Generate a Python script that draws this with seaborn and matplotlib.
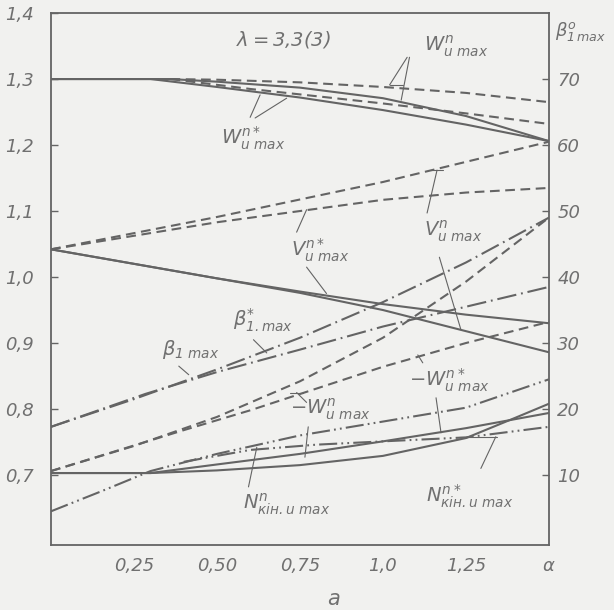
import numpy as np
import pandas as pd
import seaborn as sns
import matplotlib.pyplot as plt

# values (x = alpha, y = left scale)
x_wn = [0, 0.36, 0.5, 0.75, 1.0, 1.25, 1.5]
y_wn = [1.300, 1.300, 1.296, 1.287, 1.271, 1.244, 1.206]
x_wn_star = [0, 0.30, 0.5, 0.75, 1.0, 1.25, 1.5]
y_wn_star = [1.300, 1.300, 1.288, 1.272, 1.253, 1.231, 1.206]
x_wn_dash = [0.36, 0.5, 0.75, 1.0, 1.25, 1.5]
y_wn_dash = [1.300, 1.299, 1.295, 1.288, 1.279, 1.265]
x_wn_star_dash = [0.36, 0.6, 1.0, 1.25, 1.5]
y_wn_star_dash = [1.300, 1.285, 1.263, 1.248, 1.232]

x_vn_dash = [0, 0.5, 1.0, 1.5]
y_vn_dash = [1.042, 1.091, 1.144, 1.205]
x_vn_star_dash = [0, 0.5, 1.0, 1.25, 1.5]
y_vn_star_dash = [1.042, 1.083, 1.117, 1.128, 1.135]
x_vn_star = [0, 0.5, 0.75, 1.0, 1.25, 1.5]
y_vn_star = [1.042, 0.998, 0.978, 0.959, 0.943, 0.930]
x_vn = [0, 0.5, 0.75, 1.0, 1.25, 1.5]
y_vn = [1.042, 0.998, 0.976, 0.950, 0.918, 0.886]

x_beta = [0, 0.25, 0.5, 0.75, 1.0, 1.25, 1.5]
y_beta = [0.773, 0.815, 0.860, 0.908, 0.962, 1.022, 1.090]
x_beta_star = [0, 0.285, 0.5, 0.75, 1.0, 1.25, 1.5]
y_beta_star = [0.773, 0.823, 0.856, 0.890, 0.925, 0.955, 0.985]

x_mwn = [0, 0.25, 0.5, 0.75, 1.0, 1.25, 1.5]
y_mwn = [0.706, 0.744, 0.788, 0.842, 0.908, 0.993, 1.090]
x_mwn_star = [0, 0.4, 0.6, 1.0, 1.25, 1.5]
y_mwn_star = [0.706, 0.768, 0.798, 0.864, 0.900, 0.932]

x_dd1 = [0, 0.15, 0.30, 0.5, 0.75, 1.0, 1.25, 1.5]
y_dd1 = [0.645, 0.675, 0.706, 0.732, 0.760, 0.781, 0.802, 0.845]
x_dd2 = [0.4, 0.6, 0.8, 1.0, 1.25, 1.5]
y_dd2 = [0.720, 0.738, 0.746, 0.751, 0.757, 0.773]

x_nn = [0, 0.30, 0.5, 0.75, 1.0, 1.25, 1.4, 1.5]
y_nn = [0.703, 0.703, 0.707, 0.715, 0.729, 0.756, 0.787, 0.808]
x_nn_star = [0, 0.30, 0.5, 0.75, 1.0, 1.25, 1.5]
y_nn_star = [0.703, 0.703, 0.716, 0.732, 0.751, 0.771, 0.794]

left_ticks = [0.7, 0.8, 0.9, 1.0, 1.1, 1.2, 1.3, 1.4]
left_labels = ['0,7', '0,8', '0,9', '1,0', '1,1', '1,2', '1,3', '1,4']
right_ticks = [10, 20, 30, 40, 50, 60, 70]
x_ticks = [0.25, 0.5, 0.75, 1.0, 1.25, 1.5]
x_labels = ['0,25', '0,50', '0,75', '1,0', '1,25', r'$\alpha$']

sns.set_style('white')
plt.rcParams['font.family'] = ['DejaVu Sans']
plt.rcParams['font.style'] = 'italic'
plt.rcParams['mathtext.fontset'] = 'dejavusans'
plt.rcParams['lines.scale_dashes'] = False

bg = '#f1f1ef'
lc = '#646464'
tc = '#707070'

fig = plt.figure(figsize=(6.14, 6.10), dpi=100, facecolor=bg)
ax = fig.add_axes([0.083, 0.1066, 0.811, 0.872], facecolor=bg)

solid = '-'
dash = (0, (7, 4))
dashdot = (0, (14, 3.5, 1.3, 3.5))
dashdotdot = (0, (13, 3, 1.3, 3, 1.3, 3))

curves = [
    (x_wn, y_wn, solid), (x_wn_star, y_wn_star, solid),
    (x_wn_dash, y_wn_dash, dash), (x_wn_star_dash, y_wn_star_dash, dash),
    (x_vn_dash, y_vn_dash, dash), (x_vn_star_dash, y_vn_star_dash, dash),
    (x_vn_star, y_vn_star, solid), (x_vn, y_vn, solid),
    (x_beta, y_beta, dashdot), (x_beta_star, y_beta_star, dashdot),
    (x_mwn, y_mwn, dash), (x_mwn_star, y_mwn_star, dash),
    (x_dd1, y_dd1, dashdotdot), (x_dd2, y_dd2, dashdotdot),
    (x_nn, y_nn, solid), (x_nn_star, y_nn_star, solid),
]
for xs, ys, ls in curves:
    sns.lineplot(x=xs, y=ys, ax=ax, color=lc, linewidth=1.5, linestyle=ls)

ax.set_xlim(0, 1.5)
ax.set_ylim(0.594, 1.4)
ax.set_xticks(x_ticks)
ax.set_xticklabels(x_labels)
ax.set_yticks(left_ticks)
ax.set_yticklabels(left_labels)
ax.tick_params(direction='in', length=5, width=1, colors=lc, labelcolor=tc,
               labelsize=13)
ax.tick_params(axis='y', pad=12)
ax.tick_params(axis='x', pad=9)
for s in ax.spines.values():
    s.set_color(lc)
    s.set_linewidth(1.3)

ax2 = ax.twinx()
ax2.set_ylim((0.594 - 0.6) * 100, (1.4 - 0.6) * 100)
ax2.set_yticks(right_ticks)
ax2.set_yticklabels([str(t) for t in right_ticks])
ax2.tick_params(direction='in', length=5, width=1, colors=lc, labelcolor=tc,
                labelsize=13, pad=6)
for s in ax2.spines.values():
    s.set_visible(False)

ax.set_xlabel('$a$', fontsize=15, color=tc)
ax.xaxis.set_label_coords(0.567, -0.082)
ax.text(1.012, 0.965, r'$\beta^{o}_{1\,max}$', transform=ax.transAxes,
        fontsize=13, color=tc, ha='left', va='center')

fs = 14
ax.text(0.70, 1.36, r'$\lambda = 3{,}3(3)$', fontsize=fs, color=tc, ha='center', va='center')
ax.text(1.22, 1.35, r'$W^{n}_{u\ max}$', fontsize=fs, color=tc, ha='center', va='center')
ax.text(0.61, 1.21, r'$W^{n*}_{u\ max}$', fontsize=fs, color=tc, ha='center', va='center')
ax.text(0.81, 1.04, r'$V^{n*}_{u\ max}$', fontsize=fs, color=tc, ha='center', va='center')
ax.text(1.21, 1.07, r'$V^{n}_{u\ max}$', fontsize=fs, color=tc, ha='center', va='center')
ax.text(0.42, 0.89, r'$\beta_{1\ max}$', fontsize=fs, color=tc, ha='center', va='center')
ax.text(0.64, 0.935, r'$\beta^{*}_{1.max}$', fontsize=fs, color=tc, ha='center', va='center')
ax.text(0.84, 0.80, r'$-W^{n}_{u\ max}$', fontsize=fs, color=tc, ha='center', va='center')
ax.text(1.20, 0.843, r'$-W^{n*}_{u\ max}$', fontsize=fs, color=tc, ha='center', va='center')
ax.text(0.71, 0.655, r'$N^{n}_{кін.u\ max}$', fontsize=fs, color=tc, ha='center', va='center')
ax.text(1.26, 0.667, r'$N^{n*}_{кін.u\ max}$', fontsize=fs, color=tc, ha='center', va='center')

leaders = [
    ([1.073, 1.02], [1.333, 1.291]), ([1.02, 1.06], [1.291, 1.291]),
    ([1.08, 1.055], [1.333, 1.268]),
    ([0.60, 0.63], [1.242, 1.276]), ([0.615, 0.71], [1.241, 1.271]),
    ([0.74, 0.77], [1.068, 1.102]), ([0.77, 0.83], [1.015, 0.975]),
    ([1.133, 1.163], [1.097, 1.162]), ([1.145, 1.18], [1.162, 1.162]),
    ([1.17, 1.235], [1.03, 0.92]),
    ([0.385, 0.415], [0.865, 0.852]),
    ([0.61, 0.65], [0.905, 0.885]),
    ([0.77, 0.74], [0.81, 0.825]), ([0.72, 0.76], [0.825, 0.825]),
    ([0.775, 0.765], [0.773, 0.727]),
    ([1.12, 1.105], [0.87, 0.882]), ([1.16, 1.175], [0.817, 0.764]),
    ([0.595, 0.62], [0.682, 0.742]),
    ([1.295, 1.34], [0.71, 0.758]), ([1.23, 1.345], [0.758, 0.758]),
]
for lx, ly in leaders:
    ax.plot(lx, ly, color=lc, linewidth=0.8)

fig.savefig('out.png', dpi=100, facecolor=bg)
